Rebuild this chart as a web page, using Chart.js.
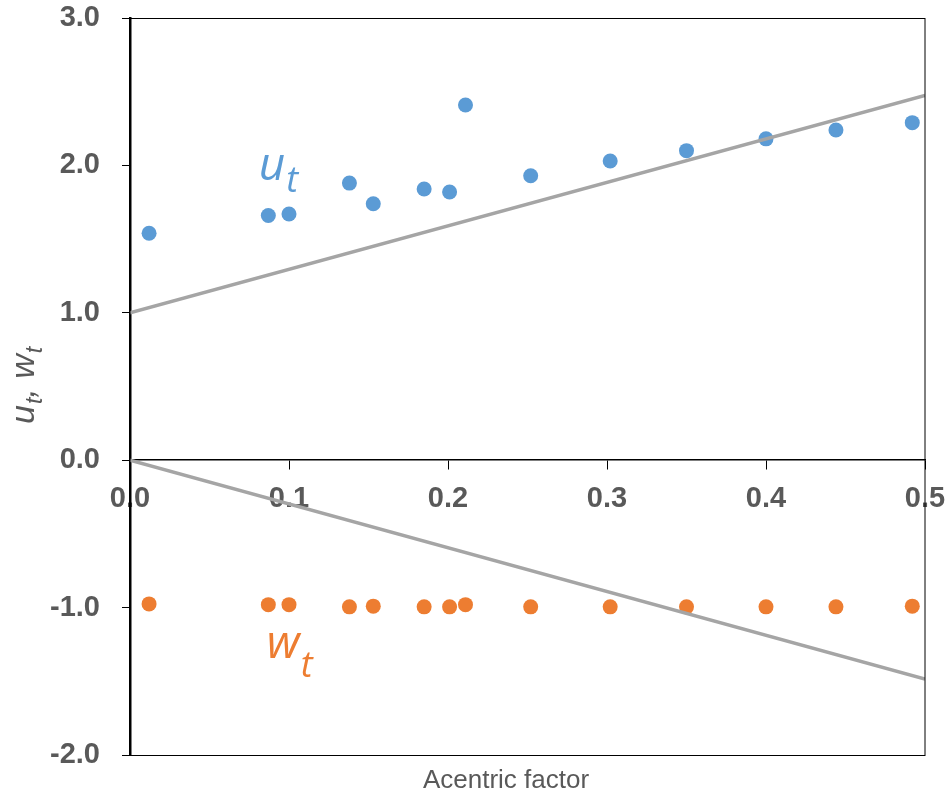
<!DOCTYPE html>
<html>
<head>
<meta charset="utf-8">
<script src="https://cdn.jsdelivr.net/npm/chart.js@4"></script>
<style>
  html, body { margin: 0; padding: 0; background: #fff; }
  #wrap { width: 950px; height: 796px; }
</style>
</head>
<body>
<div id="wrap"><canvas id="chart"></canvas></div>
<script>
// Acentric factor of each component
const omega = [0.012, 0.087, 0.100, 0.138, 0.153, 0.185, 0.201, 0.211, 0.252, 0.302, 0.350, 0.400, 0.444, 0.492];
// u_t values (blue)
const uT = [1.54, 1.66, 1.67, 1.88, 1.74, 1.84, 1.82, 2.41, 1.93, 2.03, 2.10, 2.18, 2.24, 2.29];
// w_t values (orange)
const wT = [-0.975, -0.98, -0.98, -0.995, -0.99, -0.995, -0.995, -0.98, -0.995, -0.995, -0.995, -0.995, -0.995, -0.99];
// correlation lines (end points)
const uLineX = [0, 0.5];
const uLineY = [1.0, 2.475];
const wLineX = [0, 0.5];
const wLineY = [0, -1.485];
// ticks
const xTicks = [0, 0.1, 0.2, 0.3, 0.4, 0.5];
const yTicks = [-2, -1, 0, 1, 2, 3];

const BLUE = "#5B9BD5";
const ORANGE = "#ED7D31";
const GRAY = "#A5A5A5";
const TEXT = "#595959";

function toPoints(xs, ys) {
    return xs.map((x, i) => ({ x: x, y: ys[i] }));
}

// draw "main" + subscript "sub" at (x, y) baseline, returns the width used
function drawSub(ctx, main, sub, x, y, mainFont, subFont, drop) {
    ctx.font = mainFont;
    ctx.fillText(main, x, y);
    const w = ctx.measureText(main).width;
    ctx.font = subFont;
    ctx.fillText(sub, x + w + 1, y + drop);
    return w + 1 + ctx.measureText(sub).width;
}

// frame, labels in the plot, axis titles
const extras = {
    id: "extras",
    afterDraw(chart) {
        const ctx = chart.ctx;
        const a = chart.chartArea;
        const xs = chart.scales.x;
        const ys = chart.scales.y;
        ctx.save();

        // thin frame round the plot
        ctx.strokeStyle = "#000";
        ctx.lineWidth = 1;
        ctx.strokeRect(a.left, a.top + 0.5, a.right - a.left, a.bottom - a.top);

        ctx.textAlign = "left";
        ctx.textBaseline = "alphabetic";

        // series labels
        ctx.fillStyle = BLUE;
        drawSub(ctx, "u", "t", xs.getPixelForValue(0.081), ys.getPixelForValue(1.90),
            "italic 46px 'Open Sans'", "italic 36px 'Open Sans'", 12);
        ctx.fillStyle = ORANGE;
        drawSub(ctx, "w", "t", xs.getPixelForValue(0.086), ys.getPixelForValue(-1.34),
            "italic 46px 'Open Sans'", "italic 36px 'Open Sans'", 19);

        // y axis title, rotated
        ctx.fillStyle = TEXT;
        ctx.save();
        ctx.translate(34, 424);
        ctx.rotate(-Math.PI / 2);
        let px = 0;
        px += drawSub(ctx, "u", "t", px, 0, "italic 34px 'Liberation Sans'", "italic 23px 'Liberation Sans'", 8);
        ctx.font = "italic 34px 'Liberation Sans'";
        ctx.fillText(", ", px, 0);
        px += ctx.measureText(", ").width;
        drawSub(ctx, "w", "t", px, 0, "italic 34px 'Liberation Sans'", "italic 23px 'Liberation Sans'", 8);
        ctx.restore();

        // x axis title
        ctx.font = "26px 'Liberation Sans'";
        ctx.textAlign = "center";
        ctx.fillText("Acentric factor", 506, 788);

        ctx.restore();
    }
};

new Chart(document.getElementById("chart"), {
    type: "scatter",
    data: {
        datasets: [
            {
                type: "line",
                data: toPoints(uLineX, uLineY),
                borderColor: GRAY,
                borderWidth: 3.5,
                pointRadius: 0
            },
            {
                type: "line",
                data: toPoints(wLineX, wLineY),
                borderColor: GRAY,
                borderWidth: 3.5,
                pointRadius: 0
            },
            {
                data: toPoints(omega, uT),
                backgroundColor: BLUE,
                borderWidth: 0,
                pointRadius: 7.5
            },
            {
                data: toPoints(omega, wT),
                backgroundColor: ORANGE,
                borderWidth: 0,
                pointRadius: 7.5
            }
        ]
    },
    options: {
        responsive: true,
        maintainAspectRatio: false,
        animation: false,
        layout: { padding: { top: 18, right: 25, bottom: 41, left: 0 } },
        plugins: {
            legend: { display: false },
            tooltip: { enabled: false }
        },
        scales: {
            x: {
                type: "linear",
                position: { y: 0 },
                min: 0,
                max: 0.5,
                afterBuildTicks: scale => { scale.ticks = xTicks.map(v => ({ value: v })); },
                afterFit: scale => { scale.paddingLeft = 0; scale.paddingRight = 0; },
                ticks: {
                    color: TEXT,
                    font: { family: "'Liberation Sans'", size: 29, weight: "bold" },
                    padding: 12,
                    maxRotation: 0,
                    callback: v => v.toFixed(1)
                },
                grid: { drawOnChartArea: false, drawTicks: true, tickLength: 9, color: "#000" },
                border: { display: true, color: "#000", width: 1.5 }
            },
            y: {
                min: -2,
                max: 3,
                afterBuildTicks: scale => { scale.ticks = yTicks.map(v => ({ value: v })); },
                afterFit: scale => {
                    scale.width = 130;
                    scale.paddingTop = 0;
                    scale.paddingBottom = 0;
                },
                ticks: {
                    color: TEXT,
                    font: { family: "'Liberation Sans'", size: 29, weight: "bold" },
                    padding: 22,
                    callback: v => v.toFixed(1)
                },
                grid: { drawOnChartArea: false, drawTicks: true, tickLength: 8, color: "#000" },
                border: { display: true, color: "#000", width: 2.5 }
            }
        }
    },
    plugins: [extras]
});
</script>
</body>
</html>
